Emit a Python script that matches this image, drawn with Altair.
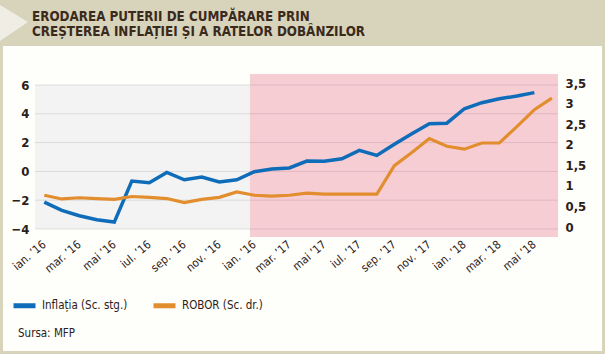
import json
import altair as alt
import pandas as pd

# ---------------- data ----------------
month_index = list(range(30))  # ian. 2016 ... iun. 2018
x_labels = ["ian. ’16", "mar. ’16", "mai ’16", "iul. ’16", "sep. ’16", "nov. ’16",
            "ian. ’16", "mar. ’17", "mai ’17", "iul. ’17", "sep. ’17", "nov. ’17",
            "ian. ’18", "mar. ’18", "mai ’18"]
inflatia = [-2.13, -2.71, -3.08, -3.36, -3.52, -0.67, -0.79, -0.07, -0.58, -0.39,
            -0.74, -0.58, -0.02, 0.17, 0.24, 0.72, 0.70, 0.88, 1.46, 1.11,
            1.88, 2.62, 3.31, 3.35, 4.35, 4.77, 5.05, 5.23, 5.47]
robor = [0.82, 0.73, 0.76, 0.74, 0.72, 0.79, 0.77, 0.74, 0.64, 0.72,
         0.77, 0.90, 0.82, 0.80, 0.82, 0.87, 0.85, 0.85, 0.85, 0.85,
         1.54, 1.86, 2.20, 2.01, 1.94, 2.09, 2.09, 2.49, 2.90, 3.18]
left_ticks = [-4, -2, 0, 2, 4, 6]
right_ticks = [0, 0.5, 1, 1.5, 2, 2.5, 3, 3.5]
series_names = ["Inflația (Sc. stg.)", "ROBOR (Sc. dr.)"]
title_lines = ["ERODAREA PUTERII DE CUMPĂRARE PRIN",
               "CREȘTEREA INFLAȚIEI ȘI A RATELOR DOBÂNZILOR"]
source_text = "Sursa: MFP"

# ---------------- styling ----------------
W, H = 523, 144
X_MIN, X_MAX = -0.53, 29.35
PINK_START = 11.75
BLUE = "#0f6cb9"
ORANGE = "#e38e2e"
PINK = "#f7cdd4"
GREYBG = "#f3f3f3"
KHAKI = "#d8d3bb"
PAPER = "#fefefa"
TEXT = "#2b2018"
TITLE_C = "#3a2a1c"
FONT = "Liberation Sans Narrow, DejaVu Sans Condensed, Arial Narrow, sans-serif"

df_inf = pd.DataFrame({"k": month_index[:len(inflatia)], "v": inflatia, "s": series_names[0]})
df_rob = pd.DataFrame({"k": month_index[:len(robor)], "v": robor, "s": series_names[1]})
df_grid = pd.DataFrame({"g": left_ticks})
one = pd.DataFrame({"a": [0]})

xscale = alt.Scale(domain=[X_MIN, X_MAX], nice=False, zero=False)
yl_scale = alt.Scale(domain=[-4, 6], nice=False, zero=False)
yr_scale = alt.Scale(domain=[0, 3.5], nice=False, zero=False)
color_scale = alt.Scale(domain=series_names, range=[BLUE, ORANGE])

x_axis = alt.Axis(
    values=list(range(0, 29, 2)),
    labelExpr=json.dumps(x_labels, ensure_ascii=False) + "[round(datum.value/2)]",
    labelAngle=-40, labelAlign="right", labelBaseline="middle", labelPadding=14,
    labelOverlap=False, labelFlush=False, ticks=False, domain=False, grid=False,
    title=None, labelFont=FONT, labelFontSize=11.5, labelColor=TEXT, zindex=1,
)
left_axis = alt.Axis(values=left_ticks, ticks=False, domain=False, grid=False, title=None,
                     labelFont=FONT, labelFontSize=13, labelFontWeight="bold",
                     labelColor=TEXT, labelPadding=6, zindex=1)
right_axis = alt.Axis(values=right_ticks, orient="right", ticks=False, domain=False,
                      grid=False, title=None,
                      labelExpr="replace(format(datum.value, '~g'), '.', ',')",
                      labelFont=FONT, labelFontSize=13, labelFontWeight="bold",
                      labelColor=TEXT, labelPadding=7, labelOffset=-2, zindex=1)
legend = alt.Legend(orient="none", legendX=-24, legendY=207, direction="horizontal",
                    title=None, symbolType="M-1,0H1", symbolSize=484,
                    symbolStrokeWidth=5, labelFont=FONT, labelFontSize=11.5,
                    labelColor=TEXT, labelOffset=4, columnPadding=15, padding=0,
                    zindex=1)

# ---------------- decoration ----------------
paper = alt.Chart(one).mark_rect(color=PAPER).encode(
    x=alt.value(-32), x2=alt.value(567), y=alt.value(-39), y2=alt.value(266))
chevron = alt.Chart(one).mark_point(shape="M0,0L28,17L0,36Z", size=4, filled=True,
                                    fill="#efede4", opacity=1, strokeWidth=0).encode(
    x=alt.value(-35), y=alt.value(-80))
title1 = alt.Chart(one).mark_text(align="left", baseline="alphabetic", font=FONT,
                                  fontSize=13.3, fontWeight="bold", color=TITLE_C).encode(
    x=alt.value(-3), y=alt.value(-64), text=alt.value(title_lines[0]))
title2 = alt.Chart(one).mark_text(align="left", baseline="alphabetic", font=FONT,
                                  fontSize=13.3, fontWeight="bold", color=TITLE_C).encode(
    x=alt.value(-3), y=alt.value(-49), text=alt.value(title_lines[1]))
source = alt.Chart(one).mark_text(align="left", baseline="alphabetic", font=FONT,
                                  fontSize=11.5, color=TEXT).encode(
    x=alt.value(-17), y=alt.value(252), text=alt.value(source_text))

grey_rect = alt.Chart(one).mark_rect(color=GREYBG).encode(
    x=alt.X(datum=X_MIN, scale=xscale, axis=x_axis), x2=alt.datum(PINK_START),
    y=alt.value(0), y2=alt.value(H))
pink_rect = alt.Chart(one).mark_rect(color=PINK).encode(
    x=alt.X(datum=PINK_START, scale=xscale, axis=x_axis), x2=alt.datum(X_MAX),
    y=alt.value(-11), y2=alt.value(152))

grid = alt.Chart(df_grid).mark_rule(color="#000000", opacity=0.1, strokeWidth=1).encode(
    y=alt.Y("g:Q", scale=yl_scale, axis=left_axis))
blue_line = alt.Chart(df_inf).mark_line(strokeWidth=3.5).encode(
    x=alt.X("k:Q", scale=xscale, axis=x_axis),
    y=alt.Y("v:Q", scale=yl_scale, axis=left_axis),
    color=alt.Color("s:N", scale=color_scale, legend=legend))
left_layer = alt.layer(grid, blue_line)

orange_line = alt.Chart(df_rob).mark_line(strokeWidth=3.2).encode(
    x=alt.X("k:Q", scale=xscale, axis=x_axis),
    y=alt.Y("v:Q", scale=yr_scale, axis=right_axis),
    color=alt.Color("s:N", scale=color_scale, legend=legend))

chart = alt.layer(
    paper, chevron, title1, title2, source, grey_rect, pink_rect, left_layer, orange_line
).resolve_scale(y="independent").properties(
    width=W, height=H,
    padding={"left": 35, "top": 85, "right": 47, "bottom": 125},
    autosize=alt.AutoSizeParams(type="none"),
).configure(background=KHAKI).configure_view(stroke=None)

chart.save("out.html", embed_options={"renderer": "svg", "actions": False})
